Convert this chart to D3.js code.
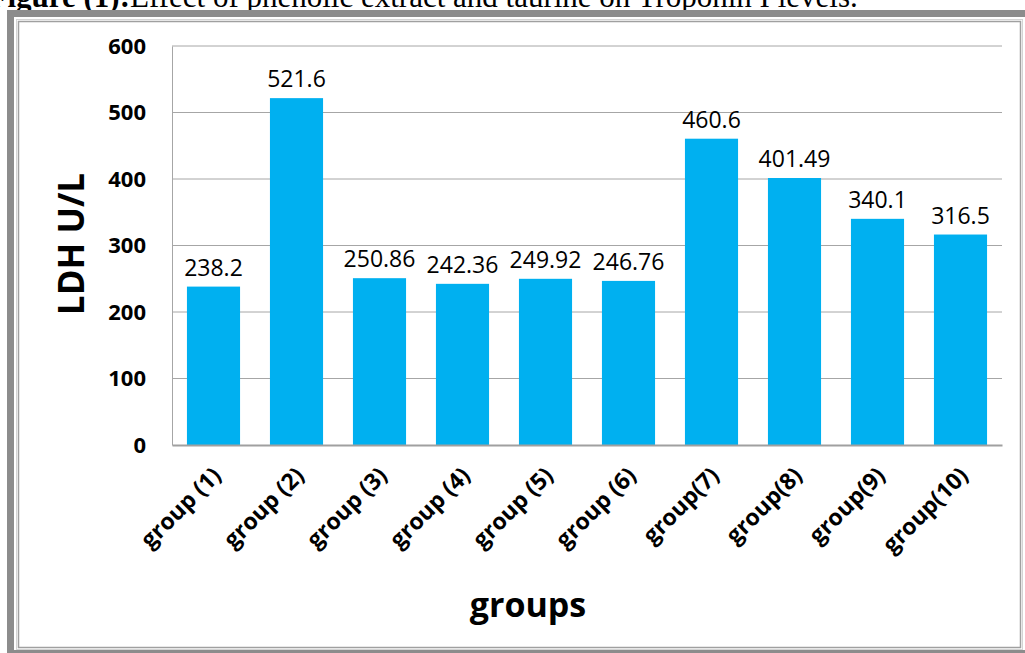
<!DOCTYPE html>
<html lang="en">
<head>
    <meta charset="utf-8">
    <title>LDH</title>
    <script src="https://d3js.org/d3.v7.min.js"></script>
    <style>
        body{margin:0;background:#fff;}
        svg{display:block;}
    </style>
</head>
<body>
<svg width="1025" height="653"></svg>
<script>
    // data
    var groups = ["group (1)","group (2)","group (3)","group (4)","group (5)","group (6)","group(7)","group(8)","group(9)","group(10)"];
    var ldh = [238.2, 521.6, 250.86, 242.36, 249.92, 246.76, 460.6, 401.49, 340.1, 316.5];
    var ldhLabels = ["238.2","521.6","250.86","242.36","249.92","246.76","460.6","401.49","340.1","316.5"];
    var yTicks = [0, 100, 200, 300, 400, 500, 600];

    var svg = d3.select("svg");
    var font = "'Open Sans', 'Noto Sans', sans-serif";
    var marge = {top:46, bottom:445, left:172, right:1002};

    //caption (the page cuts it off at the top and left)
    svg.append("text")
        .attr("x", 130).attr("y", 7)
        .attr("text-anchor", "end")
        .attr("font-family", "'Liberation Serif', serif")
        .attr("font-size", 31)
        .attr("font-weight", "bold")
        .text("Figure (1):");
    svg.append("text")
        .attr("x", 130).attr("y", 7)
        .attr("font-family", "'Liberation Serif', serif")
        .attr("font-size", 31)
        .text("Effect of phenolic extract and taurine on Troponin I levels.");

    //frames
    svg.append("rect")
        .attr("x", 10.5).attr("y", 13.5)
        .attr("width", 1030).attr("height", 640)
        .attr("fill", "none")
        .attr("stroke", "#8c8c8c")
        .attr("stroke-width", 7);
    svg.append("rect")
        .attr("x", 16.5).attr("y", 19.5)
        .attr("width", 1006).attr("height", 630)
        .attr("fill", "none")
        .attr("stroke", "#d4d4d4")
        .attr("stroke-width", 1);
    svg.append("rect")
        .attr("x", 18.5).attr("y", 21.5)
        .attr("width", 1002).attr("height", 626)
        .attr("fill", "none")
        .attr("stroke", "#a0a0a0")
        .attr("stroke-width", 1.5);

    //scales
    var x = d3.scaleBand()
        .domain(groups)
        .range([marge.left, marge.right])
        .paddingInner(0.36)
        .paddingOuter(0.18);
    var y = d3.scaleLinear()
        .domain([0, 600])
        .range([marge.bottom, marge.top]);

    //gridlines
    svg.append("g")
        .selectAll("line")
        .data(yTicks.slice(1))
        .enter()
        .append("line")
        .attr("x1", marge.left).attr("x2", marge.right)
        .attr("y1", function(d){ return y(d); })
        .attr("y2", function(d){ return y(d); })
        .attr("stroke", "#a6a6a6")
        .attr("stroke-width", 1);

    //y axis
    var yAxis = svg.append("g")
        .attr("transform", "translate(" + marge.left + ",0)")
        .call(d3.axisLeft(y).tickValues(yTicks).tickSize(0).tickPadding(26));
    yAxis.select(".domain").attr("stroke", "#a6a6a6");
    yAxis.selectAll("text")
        .attr("font-family", font)
        .attr("font-size", 22)
        .attr("font-weight", "bold")
        .attr("fill", "#000");

    //bars
    svg.append("g")
        .selectAll("rect")
        .data(ldh)
        .enter()
        .append("rect")
        .attr("x", function(d, i){ return x(groups[i]); })
        .attr("y", function(d){ return y(d); })
        .attr("width", x.bandwidth())
        .attr("height", function(d){ return y(0) - y(d); })
        .attr("fill", "#00b0f0");

    //value labels
    svg.append("g")
        .selectAll("text")
        .data(ldh)
        .enter()
        .append("text")
        .attr("x", function(d, i){ return x(groups[i]) + x.bandwidth() / 2; })
        .attr("y", function(d){ return y(d) - 11; })
        .attr("text-anchor", "middle")
        .attr("font-family", font)
        .attr("font-size", 23)
        .attr("fill", "#000")
        .text(function(d, i){ return ldhLabels[i]; });

    //x axis
    var xAxis = svg.append("g")
        .attr("transform", "translate(0," + marge.bottom + ")")
        .call(d3.axisBottom(x).tickSize(0));
    xAxis.select(".domain").attr("stroke", "#a0a0a0").attr("stroke-width", 2);
    xAxis.selectAll("text")
        .attr("font-family", font)
        .attr("font-size", 23)
        .attr("font-weight", "bold")
        .attr("fill", "#000")
        .attr("text-anchor", "end")
        .attr("dy", 0)
        .attr("y", 0)
        .attr("transform", "translate(9,32) rotate(-45)");

    //axis titles
    svg.append("text")
        .attr("transform", "translate(84,244) rotate(-90)")
        .attr("text-anchor", "middle")
        .attr("font-family", font)
        .attr("font-size", 35)
        .attr("font-weight", "bold")
        .text("LDH U/L");
    svg.append("text")
        .attr("x", 528)
        .attr("y", 617)
        .attr("text-anchor", "middle")
        .attr("font-family", font)
        .attr("font-size", 34)
        .attr("font-weight", "bold")
        .text("groups");
</script>
</body>
</html>
